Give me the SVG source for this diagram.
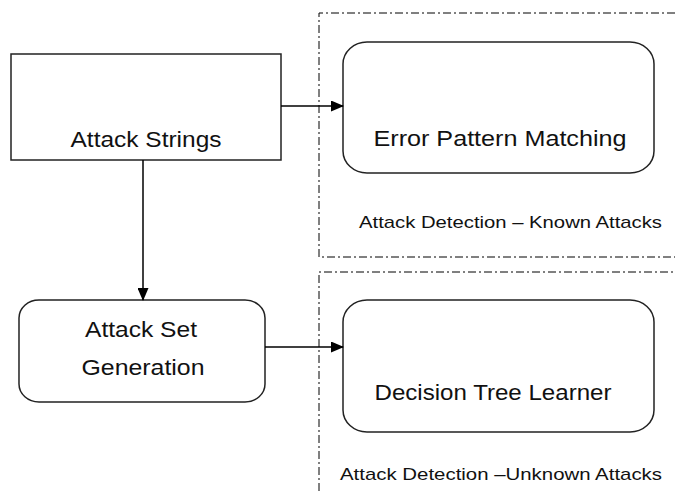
<svg xmlns="http://www.w3.org/2000/svg" width="675" height="491" viewBox="0 0 675 491">
<style>
.box{fill:#fff;stroke:#222;stroke-width:1.5}
.t{font-family:"Liberation Sans",Arial,sans-serif;fill:#111;text-anchor:middle}
.big{font-size:22px}
.small{font-size:17px;text-anchor:start}
.dash{fill:none;stroke:#000;stroke-width:1;stroke-dasharray:8 3 2 3}
.conn{fill:none;stroke:#000;stroke-width:1.5}
</style>
<defs>
<marker id="arr" markerWidth="13" markerHeight="11" refX="12" refY="5.5" orient="auto" markerUnits="userSpaceOnUse">
<path d="M0,0 L13,5.5 L0,11 Z" fill="#000"/>
</marker>
</defs>
<g id="regions">
<path class="dash" d="M319,491 V272 H675"/>
<path class="dash" d="M675,13 H319 V257 H675"/>
</g>
<g id="attack-strings">
<rect class="box" x="11" y="54" width="270" height="106"/>
<text class="t big" x="146" y="147" textLength="151" lengthAdjust="spacingAndGlyphs">Attack Strings</text>
</g>
<g id="error-pattern">
<rect class="box" x="343" y="42" width="311" height="131" rx="24" ry="22"/>
<text class="t big" x="500" y="146" textLength="253" lengthAdjust="spacingAndGlyphs">Error Pattern Matching</text>
</g>
<g id="attack-set">
<rect class="box" x="19" y="300" width="246" height="102" rx="20" ry="18"/>
<text class="t big" x="141" y="337" textLength="112" lengthAdjust="spacingAndGlyphs">Attack Set</text>
<text class="t big" x="143" y="375" textLength="123" lengthAdjust="spacingAndGlyphs">Generation</text>
</g>
<g id="decision-tree">
<rect class="box" x="343" y="300" width="311" height="132" rx="24" ry="22"/>
<text class="t big" x="493" y="400" textLength="237" lengthAdjust="spacingAndGlyphs">Decision Tree Learner</text>
</g>
<g id="labels">
<text class="t small" x="359" y="228" textLength="303" lengthAdjust="spacingAndGlyphs">Attack Detection – Known Attacks</text>
<text class="t small" x="340" y="480" textLength="322" lengthAdjust="spacingAndGlyphs">Attack Detection –Unknown Attacks</text>
</g>
<g id="connectors">
<line class="conn" x1="281" y1="106" x2="343" y2="106" marker-end="url(#arr)"/>
<line class="conn" x1="143" y1="160" x2="143" y2="300" marker-end="url(#arr)"/>
<line class="conn" x1="265" y1="347" x2="343" y2="347" marker-end="url(#arr)"/>
</g>
</svg>
